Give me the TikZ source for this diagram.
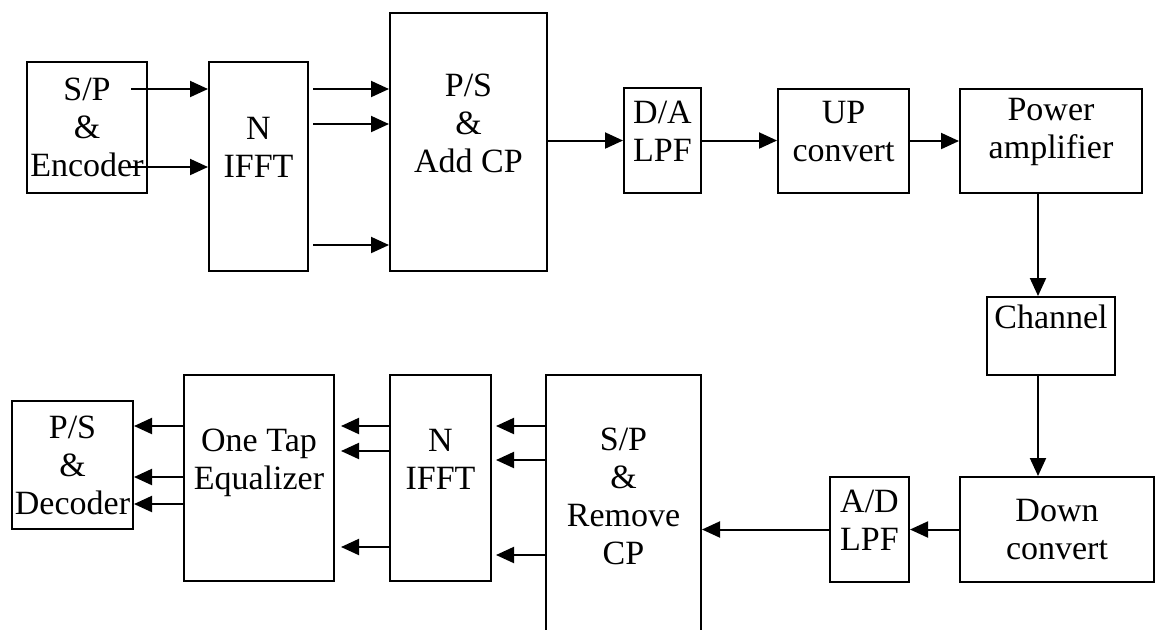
\documentclass[tikz,border=0pt]{standalone}
\usepackage{fontspec}
\setmainfont{Liberation Serif}
\usepackage{tikz}
\usetikzlibrary{arrows.meta,calc}

\tikzset{
  blk/.style={draw, line width=1pt, align=center, inner sep=0pt,
    font=\fontsize{17pt}{19pt}\selectfont},
  txt/.style={align=center, inner sep=0pt,
    font=\fontsize{17pt}{19pt}\selectfont},
  sig/.style={-{Triangle[length=9pt,width=8pt]}, line width=1pt},
}

\begin{document}
\begin{tikzpicture}[x=0.5pt, y=-0.5pt]
  \clip (0,0) rectangle (1156,629);
  % transmitter
  \node[blk, minimum width=60pt, minimum height=65.5pt] (spenc) at (87,127.5)
    {S/P\\\&\\Encoder};
  \node[blk, minimum width=49.5pt, minimum height=104.5pt] (ifft) at (258.5,166.5)
    {N\\IFFT\\\mbox{}};
  \node[blk, minimum width=78.5pt, minimum height=129pt] (psadd) at (468.5,142)
    {P/S\\\&\\Add CP\\\mbox{}};
  \node[blk, minimum width=38.5pt, minimum height=52.5pt,
    label={[txt,yshift=4.5pt]center:{D/A\\LPF}}] (da) at (662.5,140.5) {};
  \node[blk, minimum width=65.5pt, minimum height=52pt,
    label={[txt,yshift=4.5pt]center:{UP\\convert}}] (up) at (843.5,141) {};
  \node[blk, minimum width=91pt, minimum height=52pt,
    label={[txt,yshift=4.5pt]center:{Power\\amplifier}}] (pa) at (1051,141) {};
  \node[blk, minimum width=64pt, minimum height=39pt] (chan) at (1051,336)
    {Channel\\\mbox{}};
  % receiver
  \node[blk, minimum width=97pt, minimum height=52.5pt] (down) at (1057,529.5)
    {Down\\convert};
  \node[blk, minimum width=39.5pt, minimum height=52.5pt,
    label={[txt,yshift=4.5pt]center:{A/D\\LPF}}] (ad) at (869.5,529.5) {};
  \node[blk, minimum width=77.5pt, minimum height=140.5pt] (sprm) at (623.5,515.5)
    {S/P\\\&\\Remove\\CP\\\mbox{}};
  \node[blk, minimum width=50.5pt, minimum height=103pt] (ifftr) at (440.5,478)
    {N\\IFFT\\\mbox{}};
  \node[blk, minimum width=75pt, minimum height=103pt] (eq) at (259,478)
    {One Tap\\Equalizer\\\mbox{}};
  \node[blk, minimum width=60.5pt, minimum height=64pt] (psdec) at (72.5,465)
    {P/S\\\&\\Decoder};

  \coordinate (enc1) at (131,89);
  \coordinate (enc2) at (130,167);
  \draw[sig] (enc1) -- (enc1 -| ifft.west);
  \draw[sig] (enc2) -- (enc2 -| ifft.west);
  \foreach \y in {89,124,245}
    \draw[sig] ($(ifft.east |- 0,\y)+(2pt,0)$) -- (psadd.west |- 0,\y);
  \draw[sig] (psadd.east |- da.west) -- (da.west);
  \draw[sig] (da.east) -- (da.east -| up.west);
  \draw[sig] (up.east) -- (pa.west);
  \draw[sig] ($(pa.south)+(-6.5pt,0)$) -- ($(chan.north)+(-6.5pt,0)$);
  \draw[sig] ($(chan.south)+(-6.5pt,0)$) coordinate (c1) -- (c1 |- down.north);
  \draw[sig] (down.west) -- (down.west -| ad.east);
  \draw[sig] (ad.west) -- (ad.west -| sprm.east);
  \foreach \y in {426,460,555}
    \draw[sig] (sprm.west |- 0,\y) -- ($(ifftr.east |- 0,\y)+(2pt,0)$);
  \foreach \y in {426,451,547}
    \draw[sig] (ifftr.west |- 0,\y) -- ($(eq.east |- 0,\y)+(3pt,0)$);
  \foreach \y in {426,477,504}
    \draw[sig] (eq.west |- 0,\y) -- (psdec.east |- 0,\y);
\end{tikzpicture}
\end{document}
